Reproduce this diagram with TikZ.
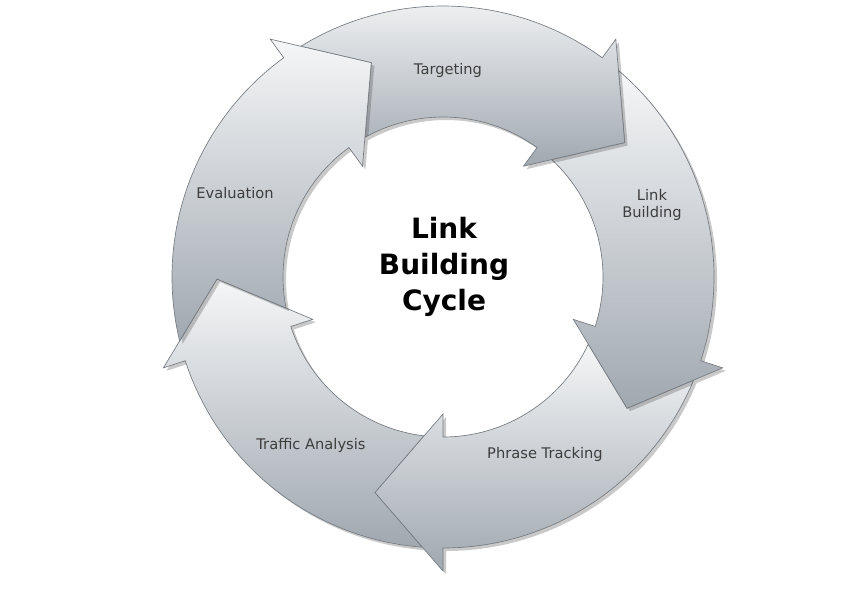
\documentclass[tikz,border=0pt]{standalone}
\usepackage{fontspec}
\setmainfont{DejaVu Sans}
\usetikzlibrary{shadows}

\definecolor{arrowtop}{RGB}{245,246,247}
\definecolor{arrowbottom}{RGB}{160,168,176}
\definecolor{arrowline}{RGB}{118,124,130}
\definecolor{labelgray}{RGB}{62,62,62}

\tikzset{every picture/.style={line width=0.75pt}}
\tikzset{
  cyclearrow/.style={top color=arrowtop, bottom color=arrowbottom, draw=arrowline, line width=0.5pt,
    drop shadow={shadow xshift=2.25pt, shadow yshift=-2.25pt, opacity=0.3, fill=black!70}},
  steplabel/.style={font=\fontsize{11}{13}\selectfont, text=labelgray, inner sep=0.75pt},
  titlelabel/.style={font=\fontsize{21}{27}\selectfont\bfseries, align=center, inner sep=0.75pt},
}

\begin{document}
\begin{tikzpicture}[x=0.75pt,y=0.75pt,yscale=-1,xscale=1]
	\useasboundingbox (0,0) rectangle (856,593);
	\begin{scope}[shift={(443,277)}]
	%Shape: Arrow [Traffic Analysis]
	\draw[cyclearrow] (94.36:271) arc[start angle=94.36, end angle=162, radius=271] -- (162:294) -- (179.5:226) -- (162:137) -- (162:160) arc[start angle=162, end angle=96.8, radius=160] -- (107.5:226) -- cycle ;
	%Shape: Arrow [Phrase Tracking]
	\draw[cyclearrow] (22.36:271) arc[start angle=22.36, end angle=90, radius=271] -- (90:294) -- (107.5:226) -- (90:137) -- (90:160) arc[start angle=90, end angle=24.8, radius=160] -- (35.5:226) -- cycle ;
	%Shape: Arrow [Link Building]
	\draw[cyclearrow] (-49.64:271) arc[start angle=-49.64, end angle=18, radius=271] -- (18:294) -- (35.5:226) -- (18:137) -- (18:160) arc[start angle=18, end angle=-47.2, radius=160] -- (-36.5:226) -- cycle ;
	%Shape: Arrow [Targeting]
	\draw[cyclearrow] (-121.64:271) arc[start angle=-121.64, end angle=-54, radius=271] -- (-54:294) -- (-36.5:226) -- (-54:137) -- (-54:160) arc[start angle=-54, end angle=-119.2, radius=160] -- (-108.5:226) -- cycle ;
	%Shape: Arrow [Evaluation]
	\draw[cyclearrow] (-193.64:271) arc[start angle=-193.64, end angle=-126, radius=271] -- (-126:294) -- (-108.5:226) -- (-126:137) -- (-126:160) arc[start angle=-126, end angle=-191.2, radius=160] -- (-180.5:226) -- cycle ;
	\end{scope}

	% Text Node
	\node[steplabel, anchor=base] (targeting) at (448,74) {Targeting};
	% Text Node
	\node[steplabel, align=center] (linkbuilding) at (652,205) {Link\\Building};
	% Text Node
	\node[steplabel, anchor=base] (phrasetracking) at (545,458) {Phrase Tracking};
	% Text Node
	\node[steplabel, anchor=base] (trafficanalysis) at (311,449) {Traffic Analysis};
	% Text Node
	\node[steplabel, anchor=base] (evaluation) at (235,198) {Evaluation};
	% Text Node
	\node[titlelabel] (cycletitle) at (444,267) {Link\\Building\\Cycle};
\end{tikzpicture}
\end{document}
